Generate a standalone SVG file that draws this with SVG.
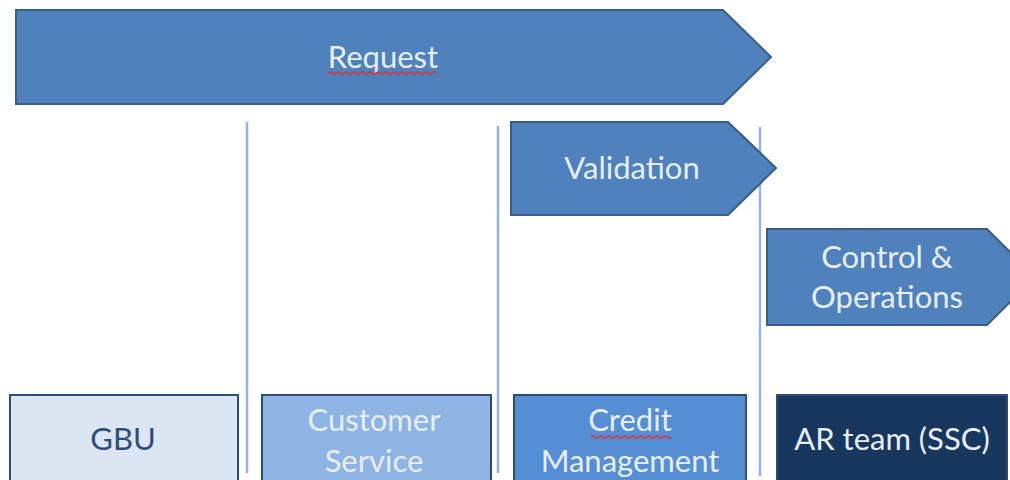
<svg xmlns="http://www.w3.org/2000/svg" width="1010" height="480" viewBox="0 0 1010 480">
<style>
.arrow{fill:#4F81BD;stroke:#385D8A;stroke-width:2}
.vline{stroke:#95B3DE;stroke-width:2.5;fill:none}
.box{stroke:#2C4D75;stroke-width:2}
text{font-family:Lato,"Open Sans","Liberation Sans",sans-serif;font-size:31px;text-anchor:middle}
.lt{fill:#E6EEF8}
.sq{fill:none;stroke:#E03030;stroke-width:1.2}
</style>
<rect width="1010" height="480" fill="#FFFFFF"/>
<g id="connectors">
<line class="vline" x1="247" y1="122" x2="247" y2="473"/>
<line class="vline" x1="498" y1="126" x2="498" y2="473"/>
<line class="vline" x1="760" y1="127" x2="760" y2="476"/>
</g>
<g id="request">
<polygon class="arrow" points="16,10 723,10 771,57 723,104 16,104"/>
<text class="lt" x="383" y="68">Request</text>
<path class="sq" d="M328,73 q2,-2 4,0 t4,0 t4,0 t4,0 t4,0 t4,0 t4,0 t4,0 t4,0 t4,0 t4,0 t4,0 t4,0 t4,0 t4,0 t4,0 t4,0 t4,0 t4,0 t4,0 t4,0 t4,0 t4,0 t4,0 t4,0 t4,0 t4,0"/>
</g>
<g id="validation">
<polygon class="arrow" points="511,122 728,122 776,168 728,215 511,215"/>
<text class="lt" x="632" y="179">Validation</text>
</g>
<g id="control">
<polygon class="arrow" points="767,229 987,229 1035,277 987,325 767,325"/>
<text class="lt" x="887" y="268">Control &amp;</text>
<text class="lt" x="887" y="308">Operations</text>
</g>
<g id="gbu">
<rect class="box" x="10" y="395" width="228" height="90" fill="#DCE6F2"/>
<text x="123" y="450" fill="#2E4E78">GBU</text>
</g>
<g id="customer-service">
<rect class="box" x="262" y="395" width="229" height="90" fill="#8EB4E3"/>
<text class="lt" x="374" y="431">Customer</text>
<text class="lt" x="374" y="472">Service</text>
</g>
<g id="credit-management">
<rect class="box" x="514" y="395" width="232" height="90" fill="#558ED5"/>
<text class="lt" x="630" y="431">Credit</text>
<path class="sq" d="M591,437 q2,-2 4,0 t4,0 t4,0 t4,0 t4,0 t4,0 t4,0 t4,0 t4,0 t4,0 t4,0 t4,0 t4,0 t4,0 t4,0 t4,0 t4,0 t4,0 t4,0 t4,0"/>
<text class="lt" x="630" y="472">Management</text>
</g>
<g id="ar-team">
<rect class="box" x="777" y="395" width="230" height="90" fill="#17375E" stroke="#10263F"/>
<text class="lt" x="892" y="450">AR team (SSC)</text>
</g>
</svg>
